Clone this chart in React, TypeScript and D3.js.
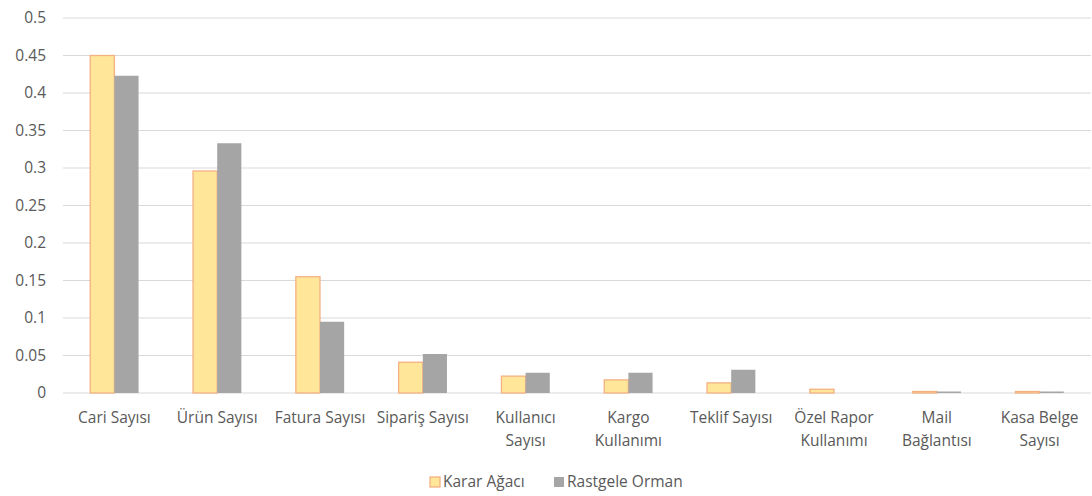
import React from "react";
import * as d3 from "d3";

const categories = [
  "Cari Sayısı",
  "Ürün Sayısı",
  "Fatura Sayısı",
  "Sipariş Sayısı",
  "Kullanıcı\nSayısı",
  "Kargo\nKullanımı",
  "Teklif Sayısı",
  "Özel Rapor\nKullanımı",
  "Mail\nBağlantısı",
  "Kasa Belge\nSayısı",
];
const kararAgaci = [0.45, 0.296, 0.155, 0.041, 0.0225, 0.0175, 0.0135, 0.005, 0.002, 0.002];
const rastgeleOrman = [0.423, 0.333, 0.095, 0.052, 0.027, 0.027, 0.031, 0.0, 0.002, 0.002];
const yTicks = [0, 0.05, 0.1, 0.15, 0.2, 0.25, 0.3, 0.35, 0.4, 0.45, 0.5];
const seriesNames = ["Karar Ağacı", "Rastgele Orman"];

const W = 1092;
const H = 496;
const FONT = "'Open Sans', 'Noto Sans', sans-serif";
const TEXT = "#595959";
const FS = 15.5;

export default function App() {
  const x = d3.scaleBand<string>().domain(categories).range([63, 1091]).paddingInner(0.53).paddingOuter(0.265);
  const y = d3.scaleLinear().domain([0, 0.5]).range([393, 18]);
  const bw = x.bandwidth() / 2;

  return (
    <svg width={W} height={H} style={{ position: "absolute", left: 0, top: 0, background: "#fff" }} fontFamily={FONT}>
      {yTicks.map((t) => (
        <g key={t}>
          <line x1={63} x2={1091} y1={y(t)} y2={y(t)} stroke="#D9D9D9" strokeWidth={1} />
          <text x={46} y={y(t)} dy="0.35em" textAnchor="end" fontSize={FS} fill={TEXT}>
            {d3.format("")(t)}
          </text>
        </g>
      ))}
      {categories.map((c, i) => {
        const x0 = x(c)!;
        const a = kararAgaci[i];
        const b = rastgeleOrman[i];
        return (
          <g key={c}>
            {a > 0 && (
              <rect x={x0} y={y(a)} width={bw} height={y(0) - y(a)} fill="#FFE699" stroke="#F4B183" strokeWidth={1.3} />
            )}
            {b > 0 && <rect x={x0 + bw} y={y(b)} width={bw} height={y(0) - y(b)} fill="#A5A5A5" />}
            <text x={x0 + bw} y={418} textAnchor="middle" fontSize={FS} fill={TEXT}>
              {c.split("\n").map((line, k) => (
                <tspan key={k} x={x0 + bw} dy={k === 0 ? "0.35em" : 23}>
                  {line}
                </tspan>
              ))}
            </text>
          </g>
        );
      })}
      <g>
        <rect x={430} y={477} width={10} height={10} fill="#FFE699" stroke="#F4B183" strokeWidth={1.3} />
        <text x={443} y={482} dy="0.35em" fontSize={FS} fill={TEXT}>{seriesNames[0]}</text>
        <rect x={554} y={477} width={10} height={10} fill="#A5A5A5" />
        <text x={567} y={482} dy="0.35em" fontSize={FS} fill={TEXT}>{seriesNames[1]}</text>
      </g>
    </svg>
  );
}
